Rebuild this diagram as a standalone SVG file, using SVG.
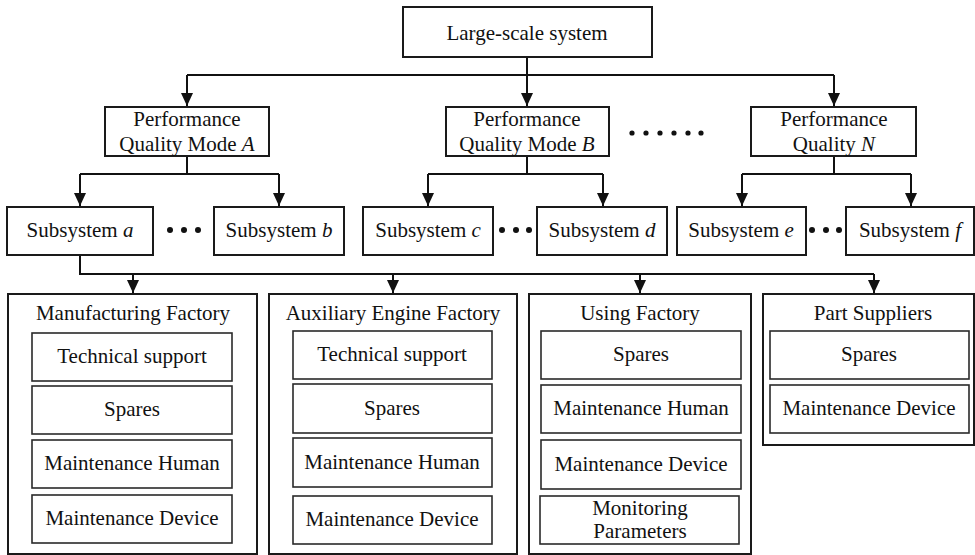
<svg xmlns="http://www.w3.org/2000/svg" width="975" height="555" viewBox="0 0 975 555">
<style>
text{font-family:"Liberation Serif","Times New Roman",serif;font-size:21px;fill:#111;text-anchor:middle}
.b{fill:#fff;stroke:#1a1a1a;stroke-width:2}
.i{fill:#fff;stroke:#2a2a2a;stroke-width:1.6}
.c{fill:none;stroke:#111;stroke-width:2}
.d{fill:#111}
tspan.it{font-style:italic}
</style>
<defs>
<marker id="ah" markerUnits="userSpaceOnUse" markerWidth="14" markerHeight="14" viewBox="0 0 14 14" refX="7" refY="13" orient="auto-start-reverse">
<path d="M1,1 L13,1 L7,13 Z" fill="#111" transform="rotate(-90 7 7)"/>
</marker>
<marker id="arr" markerUnits="userSpaceOnUse" markerWidth="14" markerHeight="14" viewBox="-7 -13 14 14" refX="0" refY="0" orient="0">
<path d="M-6,-13 L6,-13 L0,0 Z" fill="#111"/>
</marker>
</defs>
<g id="connectors">
<path class="c" d="M527,57 V106" marker-end="url(#arr)"/>
<path class="c" d="M187,75 H834"/>
<path class="c" d="M187,75 V106" marker-end="url(#arr)"/>
<path class="c" d="M834,75 V106" marker-end="url(#arr)"/>
<path class="c" d="M187,156 V174 M80,174 H279 M428,174 H603 M742,174 H911 M527,156 V174 M834,156 V174"/>
<path class="c" d="M80,174 V206" marker-end="url(#arr)"/>
<path class="c" d="M279,174 V206" marker-end="url(#arr)"/>
<path class="c" d="M428,174 V206" marker-end="url(#arr)"/>
<path class="c" d="M603,174 V206" marker-end="url(#arr)"/>
<path class="c" d="M742,174 V206" marker-end="url(#arr)"/>
<path class="c" d="M911,174 V206" marker-end="url(#arr)"/>
<path class="c" d="M80,255 V274 H874"/>
<path class="c" d="M133,274 V293" marker-end="url(#arr)"/>
<path class="c" d="M393,274 V293" marker-end="url(#arr)"/>
<path class="c" d="M640,274 V293" marker-end="url(#arr)"/>
<path class="c" d="M874,274 V293" marker-end="url(#arr)"/>
</g>
<g id="top">
<rect class="b" x="403" y="7" width="249" height="50"/>
<text x="527" y="40">Large-scale system</text>
</g>
<g id="pqA">
<rect class="b" x="105" y="107" width="164" height="49"/>
<text x="187" y="126">Performance</text>
<text x="187" y="151">Quality Mode <tspan class="it">A</tspan></text>
</g>
<g id="pqB">
<rect class="b" x="446" y="107" width="163" height="49"/>
<text x="527" y="126">Performance</text>
<text x="527" y="151">Quality Mode <tspan class="it">B</tspan></text>
</g>
<g id="pqDots">
<circle class="d" cx="632" cy="133" r="2.6"/><circle class="d" cx="646" cy="133" r="2.6"/><circle class="d" cx="660" cy="133" r="2.6"/><circle class="d" cx="674" cy="133" r="2.6"/><circle class="d" cx="688" cy="133" r="2.6"/><circle class="d" cx="701" cy="133" r="2.6"/>
</g>
<g id="pqN">
<rect class="b" x="751" y="107" width="165" height="49"/>
<text x="834" y="126">Performance</text>
<text x="834" y="151">Quality <tspan class="it">N</tspan></text>
</g>
<g id="subA">
<rect class="b" x="7" y="207" width="146" height="48"/>
<text x="80" y="237">Subsystem <tspan class="it">a</tspan></text>
</g>
<g id="subB">
<rect class="b" x="214" y="207" width="130" height="48"/>
<text x="279" y="237">Subsystem <tspan class="it">b</tspan></text>
</g>
<g id="subC">
<rect class="b" x="363" y="207" width="130" height="48"/>
<text x="428" y="237">Subsystem <tspan class="it">c</tspan></text>
</g>
<g id="subD">
<rect class="b" x="537" y="207" width="130" height="48"/>
<text x="602" y="237">Subsystem <tspan class="it">d</tspan></text>
</g>
<g id="subE">
<rect class="b" x="677" y="207" width="129" height="48"/>
<text x="741" y="237">Subsystem <tspan class="it">e</tspan></text>
</g>
<g id="subF">
<rect class="b" x="846" y="207" width="128" height="48"/>
<text x="910" y="237">Subsystem <tspan class="it">f</tspan></text>
</g>
<g id="subDots">
<circle class="d" cx="170" cy="230" r="3"/><circle class="d" cx="184" cy="230" r="3"/><circle class="d" cx="198" cy="230" r="3"/>
<circle class="d" cx="502" cy="230" r="3"/><circle class="d" cx="516" cy="230" r="3"/><circle class="d" cx="529" cy="230" r="3"/>
<circle class="d" cx="812" cy="230" r="3"/><circle class="d" cx="826" cy="230" r="3"/><circle class="d" cx="839" cy="230" r="3"/>
</g>
<g id="manufacturing">
<rect class="b" x="8" y="294" width="249" height="260"/>
<text x="133" y="320">Manufacturing Factory</text>
<rect class="i" x="32" y="333" width="200" height="48"/><text x="132" y="363">Technical support</text>
<rect class="i" x="32" y="386" width="200" height="48"/><text x="132" y="416">Spares</text>
<rect class="i" x="32" y="440" width="200" height="48"/><text x="132" y="470">Maintenance Human</text>
<rect class="i" x="32" y="495" width="200" height="48"/><text x="132" y="525">Maintenance Device</text>
</g>
<g id="auxiliary">
<rect class="b" x="269" y="294" width="248" height="260"/>
<text x="393" y="320">Auxiliary Engine Factory</text>
<rect class="i" x="293" y="331" width="199" height="48"/><text x="392" y="361">Technical support</text>
<rect class="i" x="293" y="384" width="199" height="49"/><text x="392" y="415">Spares</text>
<rect class="i" x="293" y="438" width="199" height="49"/><text x="392" y="469">Maintenance Human</text>
<rect class="i" x="293" y="496" width="199" height="48"/><text x="392" y="526">Maintenance Device</text>
</g>
<g id="using">
<rect class="b" x="529" y="294" width="222" height="260"/>
<text x="640" y="320">Using Factory</text>
<rect class="i" x="541" y="331" width="200" height="48"/><text x="641" y="361">Spares</text>
<rect class="i" x="541" y="385" width="200" height="48"/><text x="641" y="415">Maintenance Human</text>
<rect class="i" x="541" y="440" width="200" height="49"/><text x="641" y="471">Maintenance Device</text>
<rect class="i" x="540" y="496" width="199" height="48"/><text x="640" y="515">Monitoring</text><text x="640" y="538">Parameters</text>
</g>
<g id="suppliers">
<rect class="b" x="763" y="294" width="211" height="151"/>
<text x="873" y="320">Part Suppliers</text>
<rect class="i" x="770" y="331" width="199" height="48"/><text x="869" y="361">Spares</text>
<rect class="i" x="770" y="385" width="199" height="48"/><text x="869" y="415">Maintenance Device</text>
</g>
</svg>
